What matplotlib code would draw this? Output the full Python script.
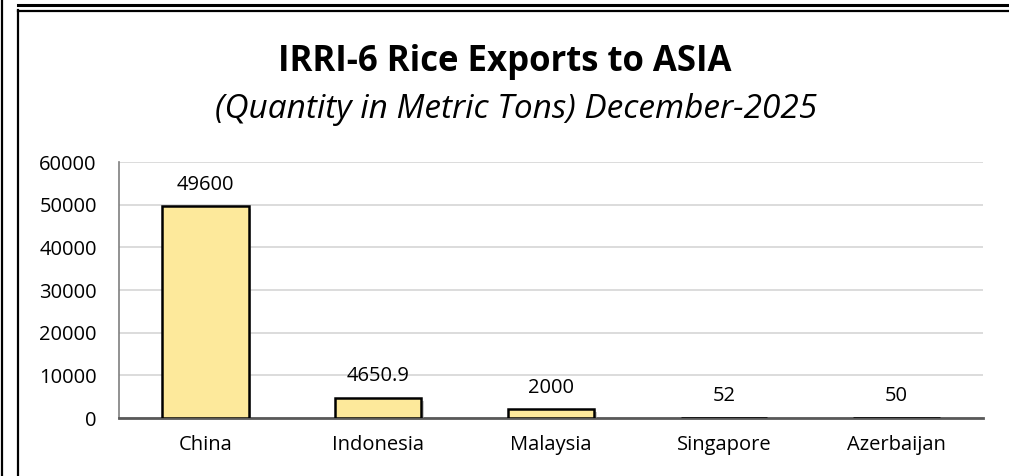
import matplotlib
matplotlib.use("Agg")
import matplotlib.pyplot as plt
from matplotlib.lines import Line2D
import matplotlib.patheffects as pe

categories = ["China", "Indonesia", "Malaysia", "Singapore", "Azerbaijan"]
values = [49600, 4650.9, 2000, 52, 50]
value_labels = ["49600", "4650.9", "2000", "52", "50"]
yticks = [0, 10000, 20000, 30000, 40000, 50000, 60000]

title = "IRRI-6 Rice Exports to ASIA"
subtitle = "(Quantity in Metric Tons) December-2025"

plt.rcParams['font.family'] = ['Open Sans', 'DejaVu Sans']

W, H = 1009, 476
fig = plt.figure(figsize=(W / 100, H / 100), dpi=100)
fig.patch.set_facecolor("white")

# axes placement in pixels
left, right, top, bottom = 119, 983, 162, 418
ax = fig.add_axes([left / W, 1 - bottom / H, (right - left) / W, (bottom - top) / H])

x = list(range(len(categories)))
bars = ax.bar(x, values, width=0.5, color="#FDE99B", edgecolor="black", linewidth=1.8, zorder=3)
for b in bars:
    b.set_path_effects([pe.SimplePatchShadow(offset=(2, -2), shadow_rgbFace="#999999", alpha=0.5), pe.Normal()])

for xi, v, lab in zip(x, values, value_labels):
    ax.annotate(lab, (xi, v), xytext=(0, 12), textcoords="offset points",
                ha="center", va="baseline", fontsize=14.5, color="black")

ax.set_xlim(-0.5, len(categories) - 0.5)
ax.set_ylim(0, 60000)
ax.set_yticks(yticks)
ax.set_yticklabels([str(t) for t in yticks])
ax.set_xticks(x)
ax.set_xticklabels(categories)
ax.tick_params(axis="y", length=0, pad=16, labelsize=14.5)
ax.tick_params(axis="x", length=0, pad=12, labelsize=14.5)
ax.grid(axis="y", color="#D9D9D9", linewidth=1.3, zorder=0)
ax.set_axisbelow(True)
for s in ["top", "right"]:
    ax.spines[s].set_visible(False)
ax.spines["left"].set_color("#7F7F7F")
ax.spines["left"].set_linewidth(1.2)
ax.spines["bottom"].set_color("#595959")
ax.spines["bottom"].set_linewidth(2)

fig.text(504.5 / W, 1 - 71 / H, title, ha="center", va="baseline", fontsize=25, fontweight="bold")
fig.text(516 / W, 1 - 118 / H, subtitle, ha="center", va="baseline", fontsize=24, style="italic")

# border lines
def px_line(x0, y0, x1, y1, lw):
    fig.add_artist(Line2D([x0 / W, x1 / W], [1 - y0 / H, 1 - y1 / H], color="black", linewidth=lw,
                          transform=fig.transFigure))

px_line(2, 0, 2, H, 1.6)
px_line(18, 10, 18, H, 1.6)
px_line(18, 4.5, W + 5, 4.5, 2.2)
px_line(18, 10.5, W + 5, 10.5, 1.6)

fig.savefig("out.png", dpi=100)
